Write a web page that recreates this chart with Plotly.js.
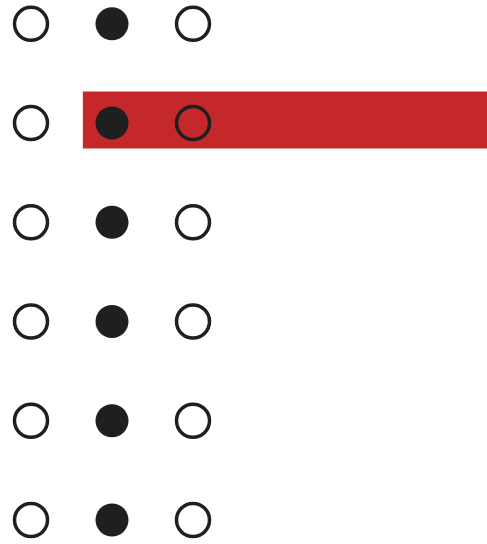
<!DOCTYPE html>
<html>
<head>
<meta charset="utf-8">
<script src="https://cdn.plot.ly/plotly-3.0.1.min.js"></script>
<style>html,body{margin:0;padding:0;background:#fff;}#chart{width:487px;height:544px;}</style>
</head>
<body>
<div id="chart"></div>
<script>
// Data
var columns = [0, 1, 2];
var columnStyle = ['open', 'filled', 'open'];
var rows = [0, 1, 2, 3, 4, 5];
var highlightRow = [1];
var highlightStart = [0.64];
var highlightEnd = [6];

var dark = '#1f1f1f';
var red = '#c4282b';

var traces = [];
traces.push({
  type: 'bar',
  orientation: 'h',
  y: highlightRow,
  base: highlightStart,
  x: highlightEnd.map(function (e, i) { return e - highlightStart[i]; }),
  width: 0.574,
  offset: -0.318,
  marker: { color: red, line: { width: 0 } },
  hoverinfo: 'skip'
});

columns.forEach(function (c, i) {
  var open = columnStyle[i] === 'open';
  traces.push({
    type: 'scatter',
    mode: 'markers',
    x: rows.map(function () { return c; }),
    y: rows,
    marker: open
      ? { symbol: 'circle-open', size: 33, color: dark, line: { width: 3.5, color: dark } }
      : { symbol: 'circle', size: 33, color: dark, line: { width: 0 } },
    hoverinfo: 'skip'
  });
});

var layout = {
  width: 487,
  height: 544,
  margin: { l: 0, r: 0, t: 0, b: 0, pad: 0 },
  paper_bgcolor: '#ffffff',
  plot_bgcolor: '#ffffff',
  showlegend: false,
  xaxis: { range: [-0.3827, 5.6296], visible: false, fixedrange: true },
  yaxis: { range: [5.2419, -0.2399], visible: false, fixedrange: true }
};

Plotly.newPlot('chart', traces, layout, { staticPlot: true, displayModeBar: false });
</script>
</body>
</html>
